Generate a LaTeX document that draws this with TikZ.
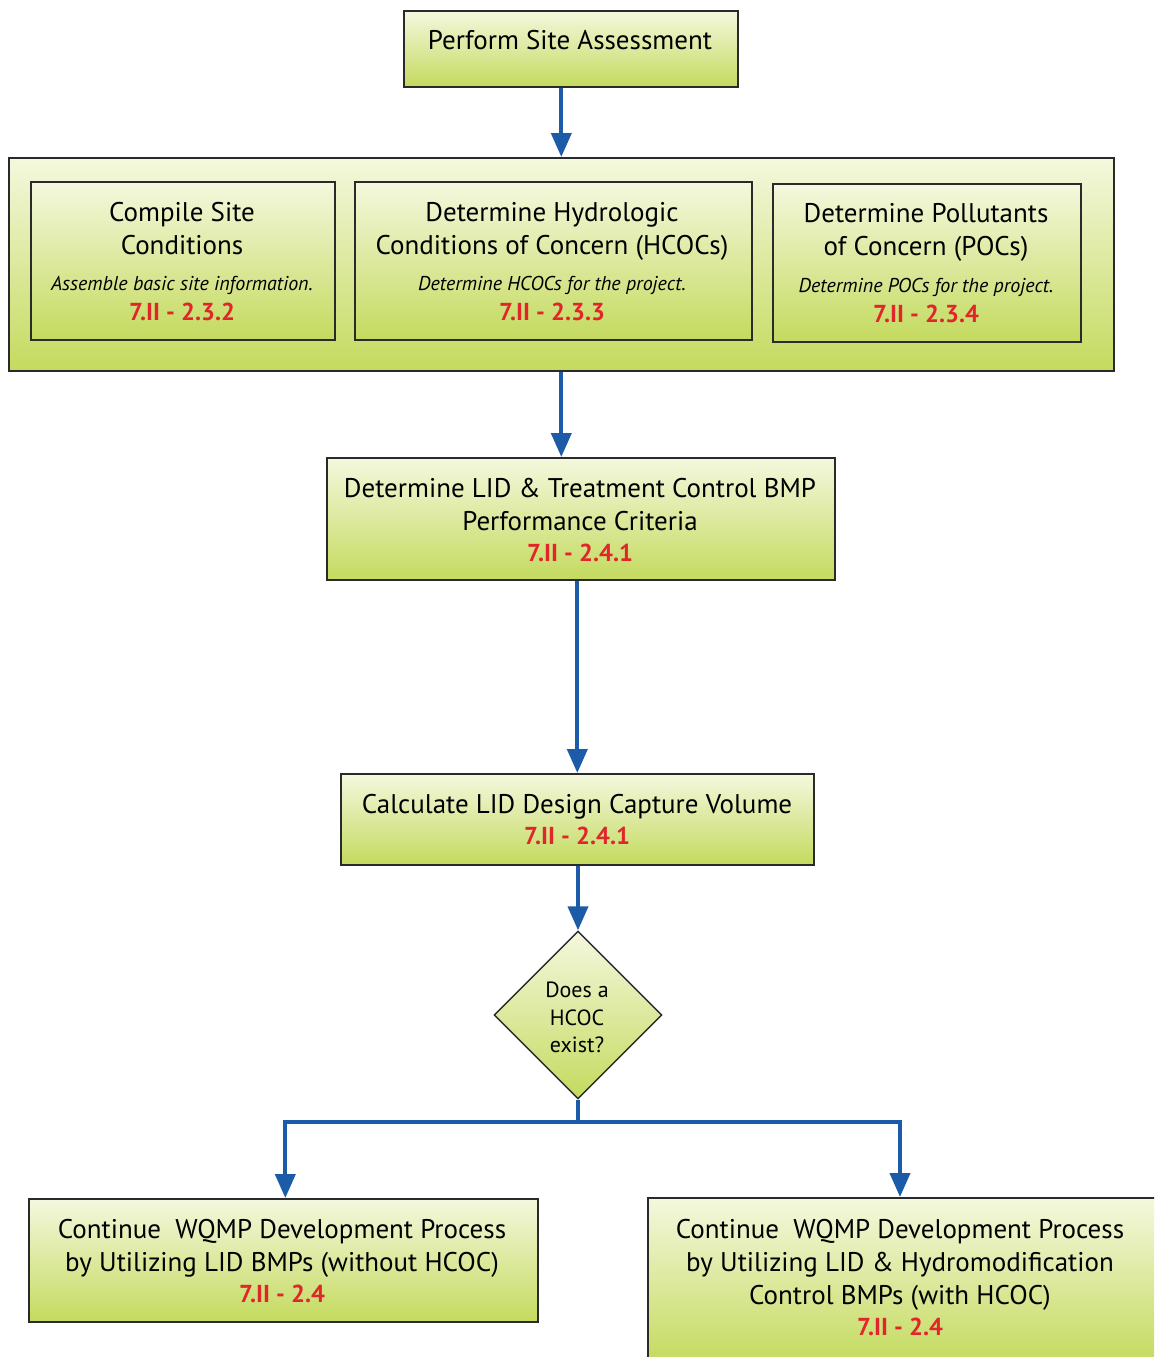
\documentclass[tikz,border=0pt]{standalone}
\usepackage{fontspec}
\setmainfont{PT Sans}
\usetikzlibrary{arrows.meta,shapes.geometric}
\definecolor{boxtop}{HTML}{F4F8DE}
\definecolor{boxbot}{HTML}{C4DA5E}
\definecolor{flow}{HTML}{1C5BA7}
\definecolor{refred}{HTML}{E0262B}
\definecolor{edge}{HTML}{2A2A2A}
\begin{document}
\begin{tikzpicture}[x=1pt,y=-1pt,
  panel/.style={draw=edge, line width=1.6pt, top color=boxtop, bottom color=boxbot,
                inner sep=0pt, anchor=north west},
  decision/.style={diamond, draw=edge, line width=1.4pt, top color=boxtop, bottom color=boxbot,
                inner sep=0pt, minimum width=168pt, minimum height=168pt},
  txt/.style={anchor=base, inner sep=0pt, font=\fontsize{27}{32}\selectfont},
  small/.style={anchor=base, inner sep=0pt, font=\fontsize{22}{26}\selectfont},
  note/.style={anchor=base, inner sep=0pt, font=\fontsize{20}{24}\selectfont\itshape},
  sect/.style={anchor=base, inner sep=0pt, text=refred, font=\fontsize{24.5}{29}\selectfont\bfseries},
  flowline/.style={draw=flow, line width=4pt},
  flowarrow/.style={flowline, -{Triangle[length=24pt,width=20pt]}}]

\useasboundingbox (0,0) rectangle (1154,1357);
\clip (0,0) rectangle (1154,1357);
\fill[white] (0,0) rectangle (1154,1357);

% boxes
\node[panel, minimum width=334pt, minimum height=76pt] (assess) at (403,10) {};
\node[panel, minimum width=1105pt, minimum height=213pt] (site) at (8,157) {};
\node[panel, minimum width=304pt, minimum height=158pt] (compile) at (30,181) {};
\node[panel, minimum width=397pt, minimum height=158pt] (hydro) at (354,181) {};
\node[panel, minimum width=308pt, minimum height=158pt] (pollut) at (772,183) {};
\node[panel, minimum width=508pt, minimum height=122pt] (lid) at (326,457) {};
\node[panel, minimum width=473pt, minimum height=91pt] (calc) at (340,773) {};
\node[decision] (hcoc) at (578,1015) {};
\node[panel, minimum width=509pt, minimum height=123pt] (without) at (28,1198) {};
\node[panel, minimum width=510pt, minimum height=166pt] (withh) at (647,1197) {};

% labels
\node[txt] (assessT) at (570,49) {Perform Site Assessment};

\node[txt] (compileA) at (182,221) {Compile Site};
\node[txt] (compileB) at (182,254) {Conditions};
\node[note] (compileN) at (182,290) {Assemble basic site information.};
\node[sect] (compileS) at (182,320) {7.II - 2.3.2};

\node[txt] (hydroA) at (552,221) {Determine Hydrologic};
\node[txt] (hydroB) at (552,254) {Conditions of Concern (HCOCs)};
\node[note] (hydroN) at (552,290) {Determine HCOCs for the project.};
\node[sect] (hydroS) at (552,320) {7.II - 2.3.3};

\node[txt] (pollutA) at (926,222) {Determine Pollutants};
\node[txt] (pollutB) at (926,255) {of Concern (POCs)};
\node[note] (pollutN) at (926,292) {Determine POCs for the project.};
\node[sect] (pollutS) at (926,322) {7.II - 2.3.4};

\node[txt] (lidA) at (580,497) {Determine LID \& Treatment Control BMP};
\node[txt] (lidB) at (580,530) {Performance Criteria};
\node[sect] (lidS) at (580,561) {7.II - 2.4.1};

\node[txt] (calcA) at (577,813) {Calculate LID Design Capture Volume};
\node[sect] (calcS) at (577,844) {7.II - 2.4.1};

\node[small] (hcocA) at (577,997) {Does a};
\node[small] (hcocB) at (577,1025) {HCOC};
\node[small] (hcocC) at (577,1052) {exist?};

\node[txt] (withoutA) at (282,1238) {Continue~ WQMP Development Process};
\node[txt] (withoutB) at (282,1271) {by Utilizing LID BMPs (without HCOC)};
\node[sect] (withoutS) at (282,1302) {7.II - 2.4};

\node[txt] (withA) at (900,1238) {Continue~ WQMP Development Process};
\node[txt] (withB) at (900,1271) {by Utilizing LID \& Hydromodification};
\node[txt] (withC) at (900,1304) {Control BMPs (with HCOC)};
\node[sect] (withS) at (900,1335) {7.II - 2.4};

% connectors
\draw[flowarrow] (site.north |- assess.south) -- (site.north);
\draw[flowarrow] (site.south) -- (site.south |- lid.north);
\draw[flowarrow] (calc.north |- lid.south) -- (calc.north);
\draw[flowarrow] (hcoc.north |- calc.south) -- (hcoc.north);
\coordinate (split) at (578,1122);
\draw[flowline] (hcoc.south) -- (split);
\draw[flowarrow] (split) -| ([xshift=2pt]without.north);
\draw[flowarrow] (split) -| (withh.north -| 900,0);
\end{tikzpicture}
\end{document}
